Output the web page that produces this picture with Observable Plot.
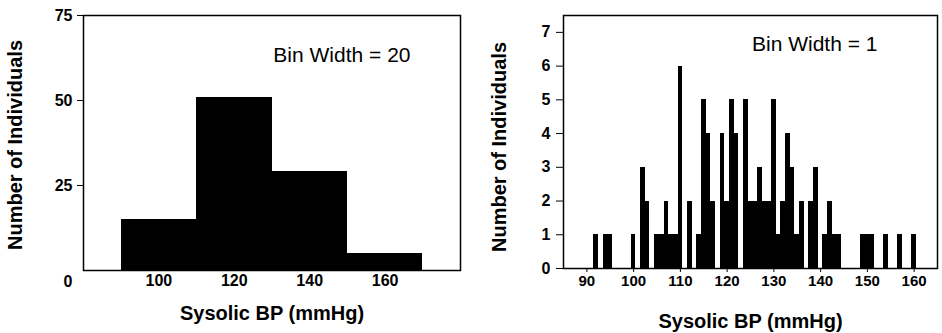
<!DOCTYPE html>
<html>
<head>
<meta charset="utf-8">
<script src="https://cdn.jsdelivr.net/npm/d3@7"></script>
<script src="https://cdn.jsdelivr.net/npm/@observablehq/plot@0.6"></script>
<style>
  html, body { margin: 0; padding: 0; background: white; }
  #wrap { position: relative; width: 942px; height: 333px; overflow: hidden; }
  #left, #right { position: absolute; top: 0; }
  #left { left: 0; }
  #right { left: 470px; }
</style>
</head>
<body>
<div id="wrap"><div id="left"></div><div id="right"></div></div>
<script>
// ---- Data ----
const leftBinStart = [90, 110, 130, 150];
const leftBinWidth = 20;
const leftCounts = [15, 51, 29, 5];
const leftYTicks = [25, 50, 75];
const leftXTicks = [100, 120, 140, 160];

const rightBP = [92, 94, 95, 100, 102, 103, 105, 106, 107, 108, 109,
  110, 112, 114, 115, 116, 117, 119, 120, 121, 122,
  124, 125, 126, 127, 128, 129,
  130, 131, 132, 133, 134, 135, 136, 138, 139,
  141, 142, 143, 144, 149, 150, 151, 154, 157, 160];
const rightCounts = [1, 1, 1, 1, 3, 2, 1, 1, 2, 1, 1,
  6, 2, 1, 5, 4, 2, 4, 2, 5, 4,
  5, 2, 2, 3, 2, 2,
  5, 1, 2, 4, 3, 1, 2, 2, 3,
  1, 2, 1, 1, 1, 1, 1, 1, 1, 1];
const rightYTicks = [0, 1, 2, 3, 4, 5, 6, 7];
const rightXTicks = [90, 100, 110, 120, 130, 140, 150, 160];

const xTitle = "Sysolic BP (mmHg)";
const yTitle = "Number of Individuals";
const leftNote = "Bin Width = 20";
const rightNote = "Bin Width = 1";

const FONT = "'Liberation Sans', Arial, Helvetica, sans-serif";

const leftData = leftBinStart.map((s, i) => ({x1: s, x2: s + leftBinWidth, n: leftCounts[i]}));
const rightData = rightBP.map((v, i) => ({x1: v - 0.5, x2: v + 0.5, n: rightCounts[i]}));

const left = Plot.plot({
  width: 470, height: 333,
  marginLeft: 83, marginRight: 10, marginTop: 15, marginBottom: 63,
  x: {domain: [80, 180]},
  y: {domain: [0, 75]},
  style: {fontFamily: FONT, fontSize: "16px", fontWeight: "bold", color: "black", background: "white", overflow: "visible"},
  marks: [
    Plot.rectY(leftData, {x1: "x1", x2: "x2", y: "n", fill: "black", inset: 0, shapeRendering: "crispEdges"}),
    Plot.frame({stroke: "black", strokeWidth: 1.5}),
    Plot.axisY(leftYTicks, {tickSize: 6, tickPadding: 5, label: null, fontSize: 16, fontWeight: "bold"}),
    Plot.axisY([0], {tickSize: 0, tickPadding: 11, dy: 11, label: null, fontSize: 16, fontWeight: "bold"}),
    Plot.axisX(leftXTicks, {tickSize: 0, tickPadding: 4, label: null, fontSize: 16, fontWeight: "bold"}),
    Plot.text([xTitle], {text: d => d, frameAnchor: "bottom", dy: 43, fontSize: 20, fontWeight: "bold", lineAnchor: "middle"}),
    Plot.text([yTitle], {text: d => d, frameAnchor: "left", dx: -68, dy: 2, rotate: -90, textAnchor: "middle", fontSize: 20, fontWeight: "bold", lineAnchor: "middle"}),
    Plot.text([leftNote], {text: d => d, frameAnchor: "top-right", dx: -50, dy: 40, textAnchor: "end", lineAnchor: "middle", fontSize: 21, fontWeight: "normal"})
  ]
});
document.getElementById("left").appendChild(left);

const right = Plot.plot({
  width: 472, height: 333,
  marginLeft: 93, marginRight: 5, marginTop: 15, marginBottom: 65,
  x: {domain: [85, 165]},
  y: {domain: [0, 7.5]},
  style: {fontFamily: FONT, fontSize: "16px", fontWeight: "bold", color: "black", background: "white", overflow: "visible"},
  marks: [
    Plot.rectY(rightData, {x1: "x1", x2: "x2", y: "n", fill: "black", inset: 0, shapeRendering: "crispEdges"}),
    Plot.frame({stroke: "black", strokeWidth: 1.5}),
    Plot.axisY(rightYTicks, {tickSize: 7, tickPadding: 6, label: null, fontSize: 16, fontWeight: "bold"}),
    Plot.axisX(rightXTicks, {tickSize: 4, tickPadding: 3, label: null, fontSize: 15, fontWeight: "bold"}),
    Plot.text([xTitle], {text: d => d, frameAnchor: "bottom", dy: 53, fontSize: 20, fontWeight: "bold", lineAnchor: "middle"}),
    Plot.text([yTitle], {text: d => d, frameAnchor: "left", dx: -64, dy: 5, rotate: -90, textAnchor: "middle", fontSize: 20, fontWeight: "bold", lineAnchor: "middle"}),
    Plot.text([rightNote], {text: d => d, frameAnchor: "top-right", dx: -60, dy: 29, textAnchor: "end", lineAnchor: "middle", fontSize: 21, fontWeight: "normal"})
  ]
});
document.getElementById("right").appendChild(right);
</script>
</body>
</html>
